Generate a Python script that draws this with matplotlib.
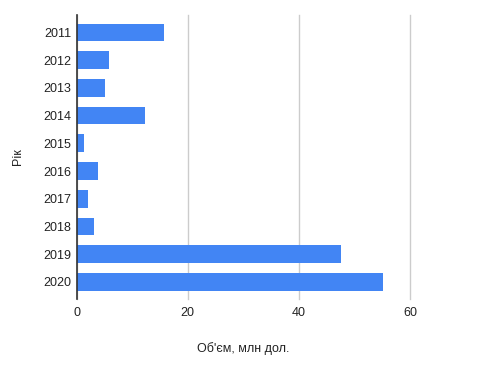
import matplotlib.pyplot as plt

years = ['2011', '2012', '2013', '2014', '2015', '2016', '2017', '2018', '2019', '2020']
volume = [15.7, 5.85, 5.1, 12.3, 1.3, 3.9, 2.1, 3.1, 47.5, 55.1]

bar_color = '#4285F4'
text_color = '#222222'


def main():
    plt.rcParams['font.family'] = ['Liberation Sans', 'DejaVu Sans']
    plt.rcParams['font.size'] = 9

    fig = plt.figure(figsize=(5, 3.66), dpi=100)
    ax = fig.add_axes([0.153, 0.183, 0.667, 0.776])

    # Горизонтальні стовпці
    positions = range(len(years))
    ax.barh(positions, volume, height=0.64, color=bar_color, zorder=3)

    ax.set_xlim(0, 60)
    ax.set_ylim(len(years) - 1 + 0.62, -0.63)
    ax.set_xticks([0, 20, 40, 60])
    ax.set_yticks(list(positions))
    ax.set_yticklabels(years)

    # Сітка та осі
    ax.grid(axis='x', color='#cccccc', linewidth=1, zorder=0)
    for line in ax.get_xgridlines():
        line.set_clip_on(False)
    for side in ['top', 'right', 'bottom']:
        ax.spines[side].set_visible(False)
    ax.spines['left'].set_color('#333333')
    ax.spines['left'].set_linewidth(1.2)
    ax.spines['left'].set_zorder(4)
    ax.tick_params(axis='both', length=0, colors=text_color)
    ax.tick_params(axis='x', pad=6)
    ax.tick_params(axis='y', pad=4)

    ax.set_xlabel("Об'єм, млн дол.", color=text_color, labelpad=16)
    ax.set_ylabel('Рік', color=text_color, labelpad=14)

    fig.savefig('out.png', dpi=100)


if __name__ == '__main__':
    main()
